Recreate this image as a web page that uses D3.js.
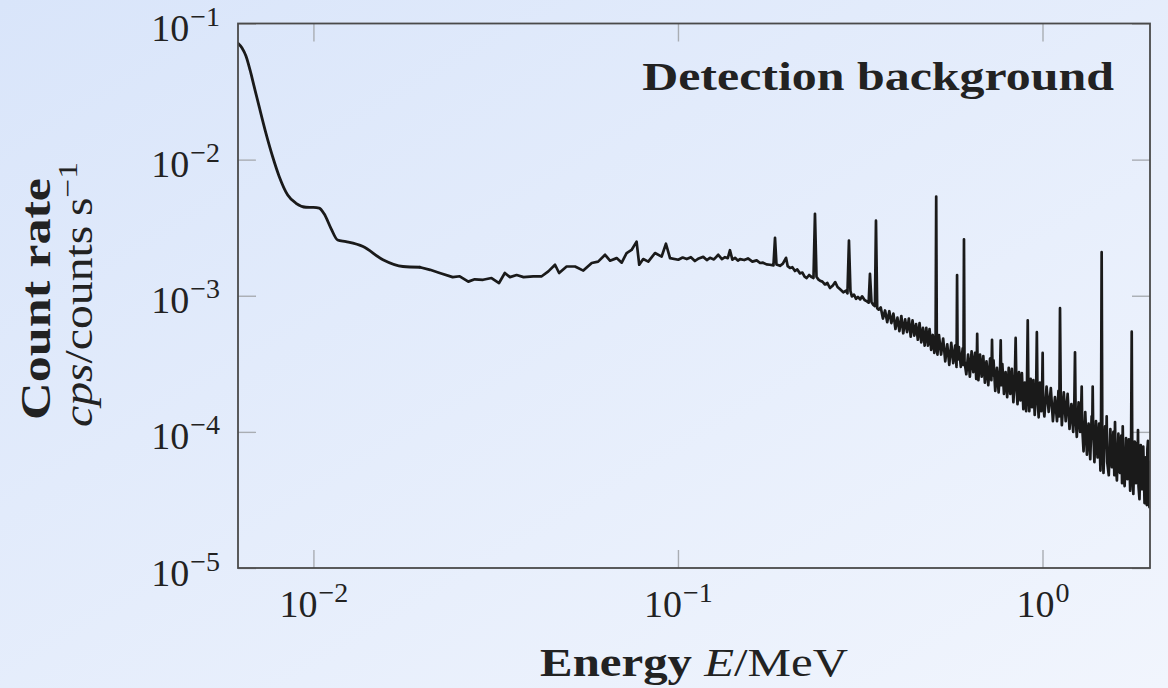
<!DOCTYPE html>
<html>
<head>
<meta charset="utf-8">
<script src="https://cdn.jsdelivr.net/npm/d3@7"></script>
<style>
  html, body { margin: 0; padding: 0; }
  body { width: 1168px; height: 688px; overflow: hidden; }
  text { font-family: "Liberation Serif", "Times New Roman", serif; fill: #222; }
</style>
</head>
<body>
<div id="chart"></div>
<script>
// axis ticks
const xTicks = [0.01, 0.1, 1]
const xTickExp = ["\u22122", "\u22121", "0"]
const yTicks = [1e-5, 1e-4, 1e-3, 1e-2, 1e-1]
const yTickExp = ["\u22125", "\u22124", "\u22123", "\u22122", "\u22121"]

// low energy part (smooth), energy in MeV, rate in counts/s
const lowEnergy = [0.00621, 0.00637, 0.00653, 0.00670, 0.00687, 0.00709, 0.00741, 0.00773, 0.00806,
  0.00850, 0.00896, 0.00954, 0.0100, 0.01037, 0.01070, 0.01117, 0.01165, 0.01228, 0.01368, 0.01551,
  0.01760, 0.01960]
const lowRate = [0.0716, 0.0661, 0.0577, 0.0456, 0.0348, 0.0248, 0.0156, 0.0105, 0.0075,
  0.0055, 0.00478, 0.00447, 0.00446, 0.00440, 0.00400, 0.00313, 0.00257, 0.00250, 0.00230, 0.00184,
  0.00164, 0.00162]

// middle part, slightly noisy, first lines of the gamma peaks
const midEnergy = [0.0196, 0.0209, 0.0222, 0.0241, 0.0252, 0.0266, 0.0277, 0.0292, 0.0308, 0.0323,
  0.0335, 0.0346, 0.0361, 0.0377, 0.0401, 0.0423, 0.0441, 0.0460, 0.0472, 0.0495, 0.0522, 0.0550,
  0.0580, 0.0604, 0.0631, 0.0651, 0.0679, 0.0701, 0.0723, 0.0746, 0.0770, 0.0783, 0.0803, 0.0829,
  0.0865, 0.0902, 0.0927, 0.0951, 0.1002, 0.1030, 0.1057, 0.1085, 0.1113, 0.1140, 0.1173, 0.1200,
  0.1224, 0.1255, 0.1290, 0.1320, 0.1346, 0.1370, 0.1389, 0.1410, 0.1434, 0.1460, 0.1480, 0.1520,
  0.1556, 0.1600, 0.1644, 0.1680, 0.1711, 0.1750, 0.1788, 0.1828, 0.1846, 0.1863, 0.1905, 0.1940,
  0.1979, 0.2000, 0.2029, 0.2060, 0.2094, 0.2125, 0.2161, 0.2195, 0.2225, 0.2255, 0.2290, 0.2327,
  0.2354, 0.2376, 0.2399, 0.2425, 0.2453, 0.2490, 0.2531, 0.2570, 0.2612, 0.2660, 0.2700, 0.2740,
  0.2790, 0.2841, 0.2890, 0.2917, 0.2945, 0.2973, 0.3000, 0.3040, 0.3080, 0.3117, 0.3160, 0.3200,
  0.3250, 0.3300, 0.3335, 0.3363, 0.3395, 0.3430, 0.3470, 0.3493, 0.3520, 0.3555]
const midRate = [0.00162, 0.00155, 0.00147, 0.00137, 0.00139, 0.00127, 0.00132, 0.00131, 0.00135, 0.00124,
  0.00147, 0.00137, 0.00142, 0.00137, 0.00139, 0.00139, 0.00151, 0.00169, 0.00147, 0.00164, 0.00164, 0.00153,
  0.00174, 0.00178, 0.00200, 0.00181, 0.00189, 0.00175, 0.00206, 0.00217, 0.00250, 0.00169, 0.00186, 0.00178,
  0.00206, 0.00194, 0.00241, 0.00189, 0.00184, 0.00191, 0.00186, 0.00192, 0.00180, 0.00188, 0.00193, 0.00183,
  0.00190, 0.00185, 0.00200, 0.00186, 0.00192, 0.00189, 0.00216, 0.00184, 0.00190, 0.00181, 0.00186, 0.00183,
  0.00188, 0.00178, 0.00182, 0.00174, 0.00175, 0.00170, 0.00169, 0.00167, 0.00266, 0.00170, 0.00166, 0.00172,
  0.00190, 0.00165, 0.00160, 0.00162, 0.00152, 0.00156, 0.00146, 0.00148, 0.00138, 0.00135, 0.00142, 0.00137,
  0.00135, 0.00400, 0.00138, 0.00132, 0.00129, 0.00127, 0.00121, 0.00124, 0.00114, 0.00119, 0.00126, 0.00116,
  0.00111, 0.00106, 0.00109, 0.00104, 0.00254, 0.00108, 0.00099, 0.00102, 0.00095, 0.00098, 0.00094, 0.00099,
  0.00093, 0.00091, 0.00089, 0.00145, 0.00090, 0.00086, 0.00084, 0.00356, 0.00081, 0.00079]

// high energy part, noisy band with the gamma lines
const highEnergy = [0.360, 0.365, 0.370, 0.375, 0.380, 0.385, 0.390, 0.395, 0.400, 0.405, 0.410, 0.415,
  0.420, 0.425, 0.430, 0.435, 0.440, 0.445, 0.450, 0.455, 0.460, 0.465, 0.470, 0.475, 0.480, 0.485,
  0.490, 0.495, 0.500, 0.505, 0.509, 0.511, 0.513, 0.515, 0.520, 0.527, 0.534, 0.541, 0.548, 0.555,
  0.562, 0.569, 0.576, 0.581, 0.583, 0.585, 0.590, 0.597, 0.604, 0.607, 0.609, 0.611, 0.618, 0.625,
  0.632, 0.639, 0.646, 0.653, 0.658, 0.660, 0.662, 0.664, 0.667, 0.674, 0.681, 0.688, 0.695, 0.702,
  0.710, 0.718, 0.724, 0.727, 0.730, 0.734, 0.742, 0.750, 0.758, 0.765, 0.768, 0.771, 0.776, 0.784,
  0.792, 0.800, 0.808, 0.816, 0.824, 0.832, 0.840, 0.844, 0.848, 0.854, 0.862, 0.870, 0.878, 0.886,
  0.894, 0.902, 0.907, 0.911, 0.915, 0.920, 0.928, 0.936, 0.944, 0.952, 0.961, 0.965, 0.969, 0.976,
  0.984, 0.992, 0.998, 1.001, 1.004, 1.012, 1.026, 1.040, 1.054, 1.068, 1.082, 1.096, 1.106, 1.112,
  1.117, 1.122, 1.130, 1.144, 1.158, 1.172, 1.186, 1.200, 1.214, 1.223, 1.228, 1.233, 1.242, 1.256,
  1.268, 1.277, 1.281, 1.285, 1.296, 1.310, 1.324, 1.338, 1.352, 1.364, 1.369, 1.373, 1.377, 1.388,
  1.402, 1.416, 1.430, 1.442, 1.447, 1.453, 1.459, 1.470, 1.485, 1.495, 1.500, 1.505, 1.520, 1.535,
  1.550, 1.565, 1.574, 1.581, 1.588, 1.600, 1.615, 1.630, 1.645, 1.653, 1.660, 1.667, 1.680, 1.695,
  1.710, 1.725, 1.740, 1.750, 1.757, 1.764, 1.775, 1.790, 1.805, 1.816, 1.822, 1.828, 1.834, 1.845,
  1.860, 1.875, 1.890, 1.905, 1.920, 1.933, 1.940, 1.947, 1.954, 1.965, 1.972]
const highRate = [8.2e-4, 6.8e-4, 7.8e-4, 6.4e-4, 7.7e-4, 6.3e-4, 7.4e-4, 5.7e-4, 6.9e-4, 5.5e-4, 7.1e-4, 5.3e-4,
  6.7e-4, 5.4e-4, 6.8e-4, 5.0e-4, 6.6e-4, 5.1e-4, 6.2e-4, 4.75e-4, 6.3e-4, 4.55e-4, 5.8e-4, 4.3e-4, 5.8e-4, 4.3e-4,
  5.7e-4, 4.0e-4, 5.15e-4, 3.8e-4, 4.6e-4, 5.36e-3, 4.3e-4, 3.7e-4, 5.15e-4, 3.7e-4, 4.85e-4, 3.3e-4, 4.4e-4, 3.1e-4,
  4.5e-4, 3.2e-4, 4.3e-4, 3.0e-4, 1.42e-3, 3.4e-4, 4.2e-4, 3.0e-4, 4.1e-4, 3.1e-4, 2.6e-3, 3.3e-4, 2.65e-4, 3.7e-4,
  2.55e-4, 3.9e-4, 2.75e-4, 3.8e-4, 2.45e-4, 3.0e-4, 5.25e-4, 3.0e-4, 2.4e-4, 3.7e-4, 2.55e-4, 3.6e-4, 2.3e-4, 3.3e-4,
  2.2e-4, 3.45e-4, 2.4e-4, 4.75e-4, 2.6e-4, 3.35e-4, 2.0e-4, 2.95e-4, 1.95e-4, 2.9e-4, 4.7e-4, 2.2e-4, 3.15e-4, 1.9e-4,
  2.75e-4, 1.8e-4, 2.95e-4, 1.9e-4, 2.9e-4, 1.65e-4, 2.6e-4, 4.9e-4, 2.2e-4, 1.6e-4, 2.75e-4, 1.7e-4, 2.7e-4, 1.47e-4,
  2.3e-4, 1.42e-4, 2.4e-4, 6.6e-4, 2.0e-4, 1.42e-4, 2.45e-4, 1.52e-4, 2.4e-4, 1.33e-4, 2.2e-4, 5.4e-4, 1.8e-4, 1.28e-4,
  2.3e-4, 1.42e-4, 2.1e-4, 3.8e-4, 1.6e-4, 1.3e-4, 2.15e-4, 1.4e-4, 2.1e-4, 1.2e-4, 1.8e-4, 1.2e-4, 2.0e-4, 1.3e-4,
  8.1e-4, 1.9e-4, 1.12e-4, 1.95e-4, 1.2e-4, 1.9e-4, 1.05e-4, 1.6e-4, 1.0e-4, 1.7e-4, 3.84e-4, 1.3e-4, 9.2e-5, 1.65e-4,
  1.0e-4, 1.5e-4, 2.15e-4, 1.1e-4, 7.2e-5, 1.4e-4, 6.8e-5, 1.15e-4, 6.3e-5, 1.3e-4, 1.0e-4, 2.15e-4, 1.1e-4, 6.0e-5,
  1.2e-4, 6.5e-5, 1.15e-4, 5.2e-5, 9.0e-5, 2.09e-3, 1.0e-4, 5.0e-5, 1.1e-4, 8.0e-5, 1.3e-4, 6.0e-5, 4.8e-5, 1.05e-4,
  5.5e-5, 1.0e-4, 4.8e-5, 1.18e-4, 6.0e-5, 4.4e-5, 9.7e-5, 5.0e-5, 9.4e-5, 4.2e-5, 1.1e-4, 5.5e-5, 4.0e-5, 9.0e-5,
  4.5e-5, 8.8e-5, 3.7e-5, 8.0e-5, 5.45e-4, 5.0e-5, 3.5e-5, 8.5e-5, 4.2e-5, 8.3e-5, 4.5e-5, 1.03e-4, 4.0e-5, 3.2e-5,
  8.0e-5, 3.8e-5, 7.8e-5, 3.0e-5, 6.5e-5, 2.9e-5, 7.5e-5, 8.6e-5, 3.5e-5, 2.8e-5, 6.0e-5]

const W = 1168, H = 688
const margin = { top: 23.5, right: 18, bottom: 120, left: 238 }
const width = W - margin.left - margin.right
const height = H - margin.top - margin.bottom

const svg = d3.select("#chart").append("svg")
  .attr("width", W)
  .attr("height", H)

// light blue page background
const defs = svg.append("defs")
const grad = defs.append("linearGradient")
  .attr("id", "bg")
  .attr("x1", 0).attr("y1", 0).attr("x2", 1).attr("y2", 1)
grad.append("stop").attr("offset", 0).attr("stop-color", "#d9e5fa")
grad.append("stop").attr("offset", 1).attr("stop-color", "#f1f5fd")
svg.append("rect").attr("width", W).attr("height", H).attr("fill", "url(#bg)")

defs.append("clipPath").attr("id", "plotclip")
  .append("rect").attr("width", width).attr("height", height)

const g = svg.append("g")
  .attr("transform", "translate(" + margin.left + "," + margin.top + ")")

const x = d3.scaleLog().domain([0.00621, 1.972]).range([0, width])
const y = d3.scaleLog().domain([1e-5, 1e-1]).range([height, 0])

// power of ten label with a raised exponent
function powerLabel(text, exp) {
  text.text(null)
  text.append("tspan").text("10")
  text.append("tspan").attr("dx", 1).attr("dy", -15).attr("font-size", 28).text(exp)
}

function styleTicks(axisG) {
  axisG.select(".domain").remove()
  axisG.selectAll(".tick line").attr("stroke", "#a9adb3").attr("stroke-width", 1.4)
}

// bottom axis
const xAxis = g.append("g")
  .attr("transform", "translate(0," + height + ")")
  .call(d3.axisBottom(x).tickValues(xTicks).tickSizeInner(-18).tickSizeOuter(0))
styleTicks(xAxis)
xAxis.selectAll(".tick text")
  .attr("y", 49).attr("dy", null)
  .attr("font-size", 38).attr("fill", "#222")
  .attr("font-family", "Liberation Serif")
  .each(function (d, i) { powerLabel(d3.select(this), xTickExp[i]) })

// top axis, ticks only
const xTop = g.append("g")
  .call(d3.axisTop(x).tickValues(xTicks).tickSizeInner(-18).tickSizeOuter(0).tickFormat(""))
styleTicks(xTop)

// left axis
const yAxis = g.append("g")
  .call(d3.axisLeft(y).tickValues(yTicks).tickSizeInner(-18).tickSizeOuter(0))
styleTicks(yAxis)
yAxis.selectAll(".tick text")
  .attr("x", -18).attr("y", 17).attr("dy", null)
  .attr("font-size", 38).attr("fill", "#222")
  .attr("font-family", "Liberation Serif")
  .each(function (d, i) { powerLabel(d3.select(this), yTickExp[i]) })

// right axis, ticks only
const yRight = g.append("g")
  .attr("transform", "translate(" + width + ",0)")
  .call(d3.axisRight(y).tickValues(yTicks).tickSizeInner(-18).tickSizeOuter(0).tickFormat(""))
styleTicks(yRight)

// spectrum
const lowData = lowEnergy.map((e, i) => [e, lowRate[i]])
const restData = midEnergy.map((e, i) => [e, midRate[i]])
  .concat(highEnergy.map((e, i) => [e, highRate[i]]))

const lineSmooth = d3.line().x(d => x(d[0])).y(d => y(d[1])).curve(d3.curveMonotoneX)
const lineRaw = d3.line().x(d => x(d[0])).y(d => y(d[1]))

const lines = g.append("g").attr("clip-path", "url(#plotclip)")
lines.append("path")
  .datum(lowData)
  .attr("d", lineSmooth)
  .attr("fill", "none").attr("stroke", "#1a1a1a")
  .attr("stroke-width", 2.8).attr("stroke-linejoin", "round").attr("stroke-linecap", "round")
lines.append("path")
  .datum(restData)
  .attr("d", lineRaw)
  .attr("fill", "none").attr("stroke", "#1a1a1a")
  .attr("stroke-width", 2.7).attr("stroke-linejoin", "round").attr("stroke-linecap", "round")

// frame
g.append("rect")
  .attr("width", width).attr("height", height)
  .attr("fill", "none").attr("stroke", "#4a4a4a").attr("stroke-width", 1.8)

// stretch a text horizontally to the width it has in the figure
function fitTo(text, target, tx, ty, rot) {
  const w = text.node().getComputedTextLength()
  const s = target / w
  text.attr("transform", "translate(" + tx + "," + ty + ")" + (rot ? " rotate(" + rot + ")" : "") + " scale(" + s + ",1)")
}

// plot title
const title = svg.append("text")
  .attr("text-anchor", "end").attr("font-size", 40).attr("font-weight", "bold")
  .text("Detection background")
fitTo(title, 472, 1114, 90)

// x axis title
const xTitle = svg.append("text").attr("text-anchor", "middle").attr("font-size", 40)
xTitle.append("tspan").attr("font-weight", "bold").text("Energy ")
xTitle.append("tspan").attr("font-style", "italic").text("E")
xTitle.append("tspan").text("/MeV")
fitTo(xTitle, 308, 694, 676)

// y axis title, two lines
const yTitle = svg.append("text").attr("text-anchor", "middle").attr("font-size", 42)
  .attr("font-weight", "bold").text("Count rate")
fitTo(yTitle, 242, 50, 299, -90)

const yUnit = svg.append("text").attr("text-anchor", "middle").attr("font-size", 40)
yUnit.append("tspan").attr("font-style", "italic").text("cps")
yUnit.append("tspan").text("/counts\u2009s")
yUnit.append("tspan").attr("dy", -15).attr("font-size", 28).text("\u22121")
fitTo(yUnit, 265, 92, 294.5, -90)
</script>
</body>
</html>
